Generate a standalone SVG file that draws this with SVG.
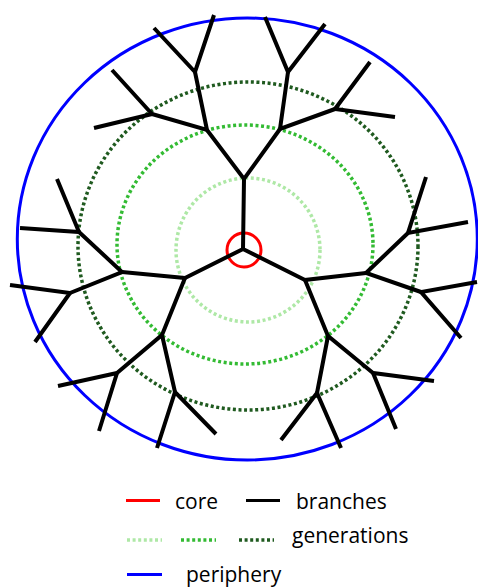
<svg xmlns="http://www.w3.org/2000/svg" width="478" height="587" viewBox="0 0 478 587">
<style>
.br{fill:none;stroke:#000;stroke-width:4;stroke-linecap:butt;stroke-linejoin:miter}
.gen{fill:none;stroke-width:3.5;stroke-dasharray:3 2.6}
.g1{stroke:#aee8a6}
.g2{stroke:#33bb33}
.g3{stroke:#1f5a1f}
.per{fill:none;stroke:#0000ff;stroke-width:3}
.core{fill:none;stroke:#ff0000;stroke-width:3}
.lbl{font-family:"Open Sans","Liberation Sans",sans-serif;font-size:21px;fill:#000}
</style>
<rect width="478" height="587" fill="#fff"/>
<g id="periphery"><ellipse class="per" cx="247.3" cy="239" rx="230" ry="221"/></g>
<g id="generation1"><circle class="gen g1" cx="248" cy="250" r="72"/></g>
<g id="generation2"><ellipse class="gen g2" cx="245" cy="244.5" rx="128" ry="119.5"/></g>
<g id="generation3"><ellipse class="gen g3" cx="248" cy="246" rx="170" ry="164"/></g>
<g id="core"><circle class="core" cx="244" cy="250" r="17"/></g>
<g id="branches">
<path class="br" d="M244,179 L243,249 L185,278"/>
<path class="br" d="M243,249 L305,280" stroke-linecap="round"/>
<path class="br" d="M207,130 L244,179 L280,129"/>
<path class="br" d="M122,272 L185,278 L162,335"/>
<path class="br" d="M366,273 L305,280 L328,336"/>
<path class="br" d="M195,72 L207,130 L152,114"/>
<path class="br" d="M288,72 L280,129 L335,109"/>
<path class="br" d="M79,232 L122,272 L70,293"/>
<path class="br" d="M117,373 L162,335 L175,392"/>
<path class="br" d="M408,233 L366,273 L421,292"/>
<path class="br" d="M317,393 L328,336 L373,373"/>
<path class="br" d="M154,28 L195,72 L214,15"/>
<path class="br" d="M112,70 L152,114 L94,128"/>
<path class="br" d="M265,17 L288,72 L325,24"/>
<path class="br" d="M370,62 L335,109 L395,117"/>
<path class="br" d="M57,179 L79,232 L20,228"/>
<path class="br" d="M10,285 L70,293 L35,342"/>
<path class="br" d="M58,386 L117,373 L99,431"/>
<path class="br" d="M157,448 L175,392 L216,434"/>
<path class="br" d="M426,177 L408,233 L468,222"/>
<path class="br" d="M477,282 L421,292 L461,338"/>
<path class="br" d="M281,440 L317,393 L341,448"/>
<path class="br" d="M396,429 L373,373 L434,381"/>
</g>
<g id="legend">
<line x1="126" y1="500.5" x2="160" y2="500.5" class="core"/>
<text class="lbl" x="175" y="509">core</text>
<line x1="246" y1="500.5" x2="280" y2="500.5" stroke="#000" stroke-width="3"/>
<text class="lbl" x="296" y="509">branches</text>
<line x1="127" y1="540" x2="162" y2="540" class="gen g1"/>
<line x1="181" y1="540" x2="216" y2="540" class="gen g2"/>
<line x1="239" y1="540" x2="274" y2="540" class="gen g3"/>
<text class="lbl" x="292" y="543">generations</text>
<line x1="127" y1="574.5" x2="162" y2="574.5" class="per"/>
<text class="lbl" x="186" y="582">periphery</text>
</g>
</svg>
